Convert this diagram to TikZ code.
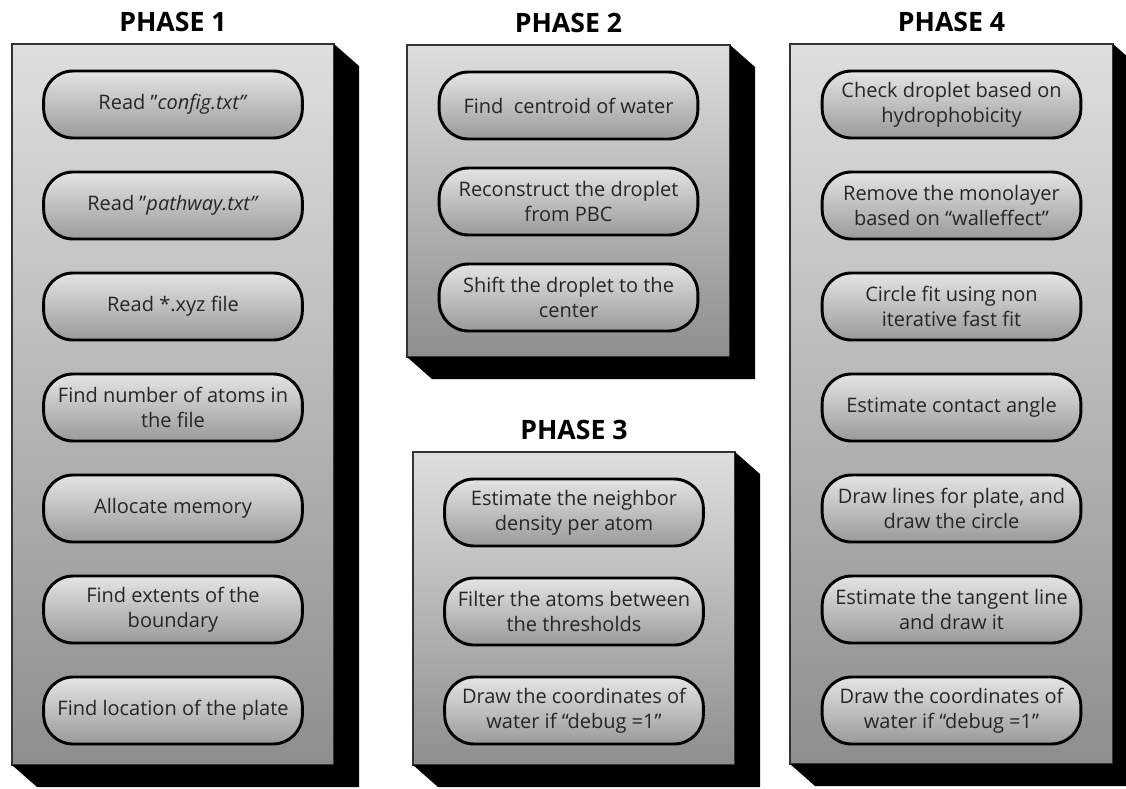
\documentclass[tikz,border=0pt]{standalone}
\usepackage{fontspec}
\setmainfont{Open Sans}
\usetikzlibrary{positioning,calc}
\definecolor{paneltop}{HTML}{DEDEDE}
\definecolor{panelbot}{HTML}{8E8E8E}
\definecolor{boxtop}{HTML}{E4E4E4}
\definecolor{boxbot}{HTML}{9A9A9A}
\tikzset{panel/.style={draw=black!80,line width=1.5pt,top color=paneltop,
  bottom color=panelbot,anchor=north west,inner sep=0pt,outer sep=0pt},
  stepbox/.style={draw=black,line width=2.2pt,rounded corners=22pt,
  top color=boxtop,bottom color=boxbot,minimum width=194pt,
  minimum height=50.25pt,align=center,inner sep=0pt,outer sep=0pt,
  text=black!85,font=\fontsize{15}{18.75}\selectfont},
  phase/.style={font=\bfseries\fontsize{20}{24}\selectfont,inner sep=0pt},
  extrude/.style={fill=black}}

\begin{document}
\begin{tikzpicture}[x=0.75pt,y=-0.75pt]
\useasboundingbox (0,0) rectangle (1126,788);
% panels
\node[panel,minimum width=241.5pt,minimum height=540.75pt] (p1) at (12,44) {};
\node[panel,minimum width=242.25pt,minimum height=234pt] (p2) at (407,45) {};
\node[panel,minimum width=241.5pt,minimum height=234.75pt] (p3) at (413,452) {};
\node[panel,minimum width=242.25pt,minimum height=540pt] (p4) at (790,44) {};
\fill[extrude] (p1.north east) -- ++(25,22) -- ($(p1.south east)+(25,22)$) -- ($(p1.south west)+(25,22)$) -- (p1.south west) -- (p1.south east) -- cycle;
\fill[extrude] (p2.north east) -- ++(25,22) -- ($(p2.south east)+(25,22)$) -- ($(p2.south west)+(25,22)$) -- (p2.south west) -- (p2.south east) -- cycle;
\fill[extrude] (p3.north east) -- ++(25,22) -- ($(p3.south east)+(25,22)$) -- ($(p3.south west)+(25,22)$) -- (p3.south west) -- (p3.south east) -- cycle;
\fill[extrude] (p4.north east) -- ++(25,22) -- ($(p4.south east)+(25,22)$) -- ($(p4.south west)+(25,22)$) -- (p4.south west) -- (p4.south east) -- cycle;
\node[phase,above=9pt of p1] (h1) {PHASE 1};
\node[phase,above=9pt of p2] (h2) {PHASE 2};
\node[phase,above=9pt of p3] (h3) {PHASE 3};
\node[phase,above=9pt of p4] (h4) {PHASE 4};
% phase 1
\node[stepbox,below=20.25pt of p1.north] (cfg) {Read "\textit{config.txt"}};
\node[stepbox,below=25.5pt of cfg] (pway) {Read "\textit{pathway.txt"}};
\node[stepbox,below=25.5pt of pway] (xyz) {Read *.xyz file};
\node[stepbox,below=25.5pt of xyz] (natoms) {Find number of atoms in\\the file};
\node[stepbox,below=25.5pt of natoms] (alloc) {Allocate memory};
\node[stepbox,below=25.5pt of alloc] (extent) {Find extents of the\\boundary};
\node[stepbox,below=25.5pt of extent] (plate) {Find location of the plate};
% phase 2
\node[stepbox,below=20.25pt of p2.north] (centroid) {Find~ centroid of water};
\node[stepbox,below=21.75pt of centroid] (recon) {Reconstruct the droplet\\from PBC};
\node[stepbox,below=21.75pt of recon] (shift) {Shift the droplet to the\\center};
% phase 3
\node[stepbox,below=20.25pt of p3.north] (dens) {Estimate the neighbor\\density per atom};
\node[stepbox,below=24pt of dens] (filt) {Filter the atoms between\\the thresholds};
\node[stepbox,below=24pt of filt] (dbgthree) {Draw the coordinates of\\water if “debug =1”};
% phase 4
\node[stepbox,below=20.25pt of p4.north] (hydro) {Check droplet based on\\hydrophobicity};
\node[stepbox,below=25.5pt of hydro] (mono) {Remove the monolayer\\based on “walleffect”};
\node[stepbox,below=25.5pt of mono] (cfit) {Circle fit using non\\iterative fast fit};
\node[stepbox,below=25.5pt of cfit] (angle) {Estimate contact angle};
\node[stepbox,below=25.5pt of angle] (lines) {Draw lines for plate, and\\draw the circle};
\node[stepbox,below=25.5pt of lines] (tangent) {Estimate the tangent line\\and draw it};
\node[stepbox,below=25.5pt of tangent] (dbgfour) {Draw the coordinates of\\water if “debug =1”};
\end{tikzpicture}
\end{document}
